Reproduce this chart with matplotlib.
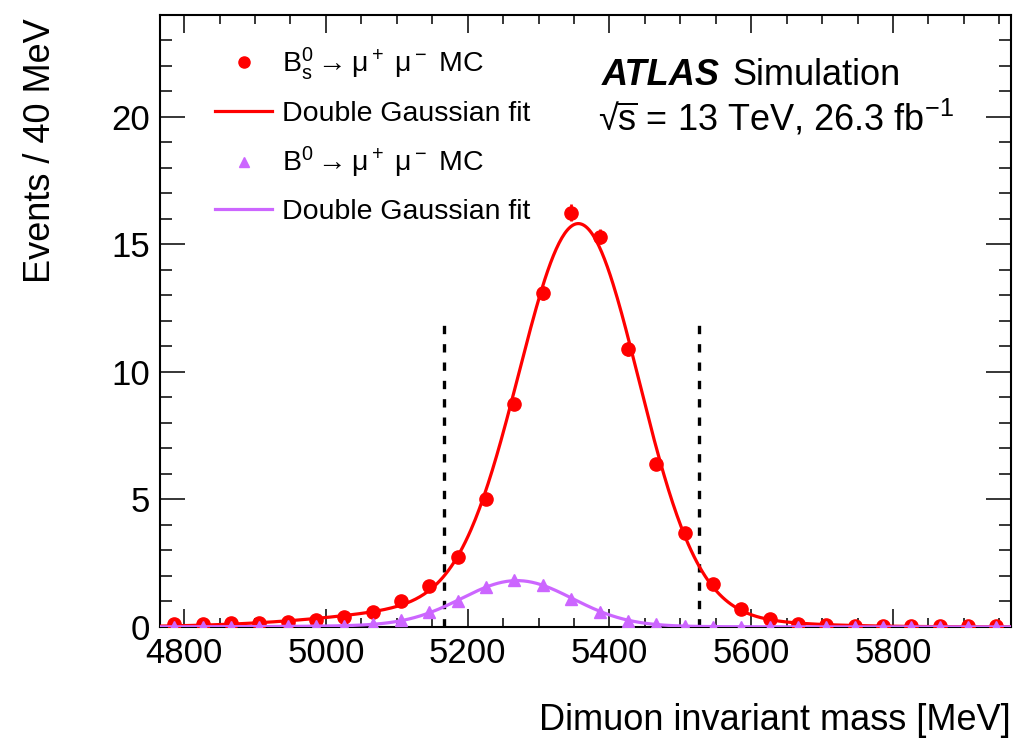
import matplotlib.pyplot as plt
from matplotlib.lines import Line2D
import numpy as np

plt.rcParams['font.family'] = ['Liberation Sans', 'DejaVu Sans']
plt.rcParams['mathtext.fontset'] = 'custom'
plt.rcParams['mathtext.rm'] = 'Liberation Sans'
plt.rcParams['mathtext.it'] = 'Liberation Sans:italic'
plt.rcParams['mathtext.bf'] = 'Liberation Sans:bold'
plt.rcParams['mathtext.default'] = 'regular'

# bin centres, 40 MeV bins over 4766-5966 MeV
mass = [4786, 4826, 4866, 4906, 4946, 4986, 5026, 5066, 5106, 5146,
        5186, 5226, 5266, 5306, 5346, 5386, 5426, 5466, 5506, 5546,
        5586, 5626, 5666, 5706, 5746, 5786, 5826, 5866, 5906, 5946]

bs_events = [0.10, 0.10, 0.15, 0.14, 0.20, 0.28, 0.40, 0.60, 1.00, 1.60,
             2.75, 5.00, 8.75, 13.10, 16.25, 15.30, 10.90, 6.40, 3.70, 1.70,
             0.70, 0.30, 0.12, 0.06, 0.04, 0.03, 0.03, 0.02, 0.02, 0.02]
bs_err = [0.02, 0.02, 0.03, 0.03, 0.03, 0.04, 0.05, 0.06, 0.08, 0.10,
          0.13, 0.18, 0.23, 0.28, 0.32, 0.30, 0.26, 0.20, 0.15, 0.10,
          0.06, 0.04, 0.03, 0.02, 0.02, 0.02, 0.02, 0.01, 0.01, 0.01]

bd_events = [0.01, 0.01, 0.01, 0.01, 0.02, 0.03, 0.05, 0.10, 0.28, 0.60,
             1.00, 1.55, 1.84, 1.65, 1.10, 0.60, 0.25, 0.10, 0.03, 0.01,
             0.01, 0.00, 0.00, 0.00, 0.00, 0.00, 0.00, 0.00, 0.00, 0.00]
bd_err = [0.01, 0.01, 0.01, 0.01, 0.01, 0.01, 0.01, 0.02, 0.03, 0.04,
          0.05, 0.06, 0.06, 0.06, 0.05, 0.04, 0.03, 0.02, 0.01, 0.01,
          0.01, 0.01, 0.01, 0.01, 0.01, 0.01, 0.01, 0.01, 0.01, 0.01]

# double Gaussian fit parameters: (A1, mean1, sigma1, A2, mean2, sigma2)
bs_fit = (14.9, 5357, 84, 1.0, 5276, 195)
bd_fit = (1.76, 5270, 78, 0.06, 5206, 175)

signal_window = [5166, 5526]


def double_gauss(x, a1, m1, s1, a2, m2, s2):
    return a1 * np.exp(-0.5 * ((x - m1) / s1) ** 2) + a2 * np.exp(-0.5 * ((x - m2) / s2) ** 2)


fig = plt.figure(figsize=(10.26, 7.49), dpi=100)
ax = fig.add_axes([0.156, 0.163, 0.829, 0.817])

xx = np.linspace(4766, 5966, 600)
red = '#ff0000'
violet = '#cc66ff'

ax.errorbar(mass, bs_events, yerr=bs_err, fmt='o', color=red, ms=9.5, elinewidth=2, capsize=0, zorder=3)
ax.plot(xx, double_gauss(xx, *bs_fit), color=red, lw=2.3, zorder=3)
ax.errorbar(mass, bd_events, yerr=bd_err, fmt='^', color=violet, ms=9, elinewidth=2, capsize=0, zorder=4)
ax.plot(xx, double_gauss(xx, *bd_fit), color=violet, lw=2.3, zorder=4)

for xv in signal_window:
    ax.plot([xv, xv], [0, 12], color='black', lw=2.4, dashes=(2.5, 3.0), zorder=2)

ax.set_xlim(4766, 5966)
ax.set_ylim(0, 24)
ax.set_xticks([4800, 5000, 5200, 5400, 5600, 5800])
ax.set_xticks(np.arange(4800, 5966, 50), minor=True)
ax.set_yticks([0, 5, 10, 15, 20])
ax.set_yticks(np.arange(0, 24.1, 1), minor=True)
ax.tick_params(which='both', direction='in', top=True, right=True, width=1.1, labelsize=25)
ax.tick_params(axis='x', which='major', length=13, pad=7)
ax.tick_params(axis='x', which='minor', length=6.5)
ax.tick_params(axis='y', which='major', length=18, pad=7)
ax.tick_params(axis='y', which='minor', length=8.6)
for sp in ax.spines.values():
    sp.set_linewidth(1.5)

ax.set_xlabel('Dimuon invariant mass [MeV]', fontsize=26, loc='right')
ax.xaxis.set_label_coords(1.0, -0.125)
ax.set_ylabel('Events / 40 MeV', fontsize=26, loc='top')
ax.yaxis.set_label_coords(-0.12, 0.995)

ax.text(0.519, 0.886, 'ATLAS', transform=ax.transAxes, fontsize=26, fontweight='bold', fontstyle='italic')
ax.text(0.673, 0.886, 'Simulation', transform=ax.transAxes, fontsize=26)
ax.text(0.515, 0.812, r'√$\overline{s}$ = 13 TeV, 26.3 fb$^{-1}$', transform=ax.transAxes, fontsize=26)

handles = [
    Line2D([], [], ls='none', marker='o', color=red, ms=8),
    Line2D([], [], color=red, lw=2.3),
    Line2D([], [], ls='none', marker='^', color=violet, ms=7),
    Line2D([], [], color=violet, lw=2.3),
]
labels = [
    r'$B_s^0\rightarrow$μ$^+$ μ$^-$ MC',
    'Double Gaussian fit',
    r'$B^0\rightarrow$μ$^+$ μ$^-$ MC',
    'Double Gaussian fit',
]
ax.legend(handles, labels, loc='upper left', bbox_to_anchor=(0.065, 0.95), frameon=False, fontsize=20.5,
          handlelength=2.0, handletextpad=0.35, labelspacing=0.65, borderpad=0, borderaxespad=0)

fig.savefig('out.png', dpi=100)
